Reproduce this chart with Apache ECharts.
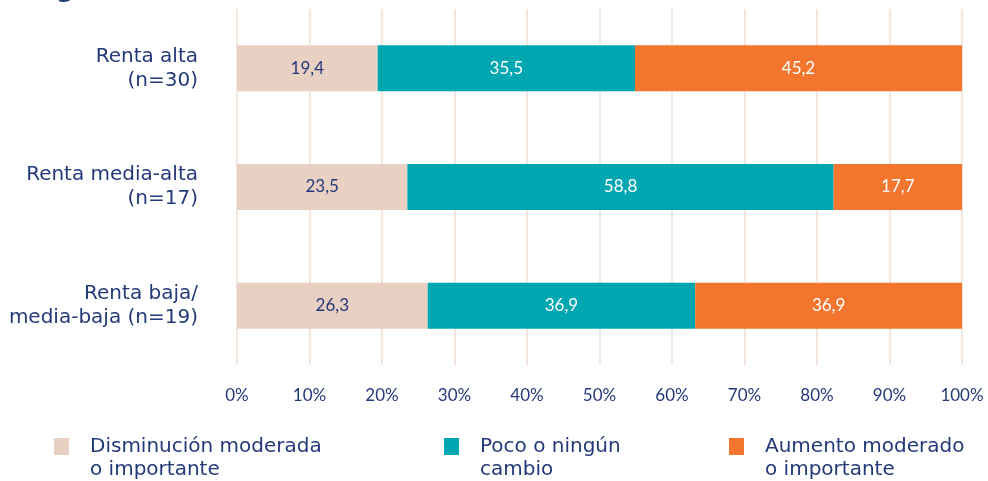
<!DOCTYPE html>
<html>
<head>
<meta charset="utf-8">
<script src="https://cdn.jsdelivr.net/npm/echarts@6/dist/echarts.min.js"></script>
<style>
html,body{margin:0;padding:0;background:#fff;}
#chart{width:988px;height:481px;}
</style>
</head>
<body>
<div id="chart"></div>
<script>
// categorías y valores (%)
var categorias = ['Renta alta\n(n=30)', 'Renta media-alta\n(n=17)', 'Renta baja/\nmedia-baja (n=19)'];
var disminucion = [19.4, 23.5, 26.3];
var pocoCambio = [35.5, 58.8, 36.9];
var aumento = [45.2, 17.7, 36.9];
var nombres = ['Disminución moderada\no importante', 'Poco o ningún\ncambio', 'Aumento moderado\no importante'];
var ticks = [0, 10, 20, 30, 40, 50, 60, 70, 80, 90, 100];

(function(){
    var navy = '#23397a';
    var fuenteNum = 'Lato, "Noto Sans", sans-serif';
    var fuenteTxt = '"DejaVu Sans", sans-serif';
    var myChart = echarts.init(document.getElementById('chart'));

    function etiqueta(color){
        return {
            show: true,
            position: 'inside',
            color: color,
            fontSize: 17,
            fontFamily: fuenteNum,
            formatter: function(p){ return String(p.value).replace('.', ','); }
        };
    }
    // una leyenda por serie; linea vacia delante para alinear el icono con la primera linea
    function leyenda(nombre, x){
        return {
            data: [nombre],
            left: x,
            top: 412,
            padding: 0,
            itemWidth: 15,
            itemHeight: 17,
            itemGap: 0,
            icon: 'rect',
            formatter: function(n){ return '\n' + n; },
            textStyle: {color: navy, fontSize: 20, fontFamily: fuenteTxt, lineHeight: 23, padding: [0, 0, 0, 16]}
        };
    }

    var option = {
        animation: false,
        grid: {left: 237, right: 26, top: 9, bottom: 116, containLabel: false},
        legend: [leyenda(nombres[0], 54), leyenda(nombres[1], 444), leyenda(nombres[2], 729)],
        graphic: [{
            type: 'text', left: 56, top: -24,
            style: {text: 'g', fill: navy, font: 'bold 26px ' + fuenteTxt}
        }],
        xAxis: {
            type: 'value',
            min: 0, max: 100, interval: 10,
            axisLine: {show: false},
            axisTick: {show: false},
            axisLabel: {
                color: navy, fontSize: 17, fontFamily: fuenteNum, margin: 22,
                formatter: function(v){ return ticks.indexOf(v) >= 0 ? v + '%' : ''; }
            },
            splitLine: {lineStyle: {color: '#f5e6dd', width: 2}}
        },
        yAxis: {
            type: 'category',
            inverse: true,
            data: categorias,
            axisLine: {show: false},
            axisTick: {show: false},
            axisLabel: {color: navy, fontSize: 20, fontFamily: fuenteTxt, lineHeight: 24, margin: 39, align: 'right'}
        },
        series: [
            {name: nombres[0], type: 'bar', stack: 't', data: disminucion, barWidth: 46,
             itemStyle: {color: '#e8d0c2'}, label: etiqueta(navy)},
            {name: nombres[1], type: 'bar', stack: 't', data: pocoCambio, barWidth: 46,
             itemStyle: {color: '#00a7b1'}, label: etiqueta('#ffffff')},
            {name: nombres[2], type: 'bar', stack: 't', data: aumento, barWidth: 46,
             itemStyle: {color: '#f4752e'}, label: etiqueta('#ffffff')}
        ]
    };
    myChart.setOption(option);
})();
</script>
</body>
</html>
